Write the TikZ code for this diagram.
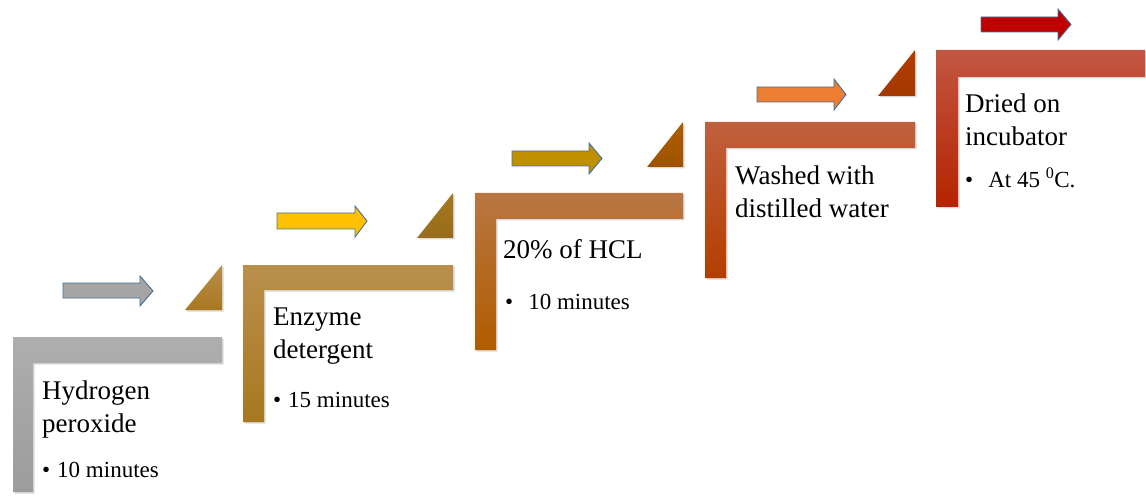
\documentclass[tikz,border=0pt]{standalone}
\usepackage{fontspec}
\setmainfont{Liberation Serif}
\usepackage{xcolor}
\usetikzlibrary{shadows}

\definecolor{sAtop}{HTML}{AEAEAE}
\definecolor{sAbot}{HTML}{9C9C9C}
\definecolor{sBtop}{HTML}{B98F4C}
\definecolor{sBbot}{HTML}{A8781F}
\definecolor{sCtop}{HTML}{B97642}
\definecolor{sCbot}{HTML}{B05C00}
\definecolor{sDtop}{HTML}{C0603E}
\definecolor{sDbot}{HTML}{B43E00}
\definecolor{sEtop}{HTML}{C25642}
\definecolor{sEbot}{HTML}{B42400}
\definecolor{arrowline}{HTML}{41719C}
\definecolor{arrA}{HTML}{A5A5A5}
\definecolor{arrB}{HTML}{FFC000}
\definecolor{arrC}{HTML}{BF9000}
\definecolor{arrD}{HTML}{ED7D31}
\definecolor{arrE}{HTML}{C00000}

\begin{document}
\begin{tikzpicture}[x=1pt,y=-1pt,
  bar/.style={drop shadow={shadow xshift=1.5pt,shadow yshift=-1.5pt,opacity=0.3}},
  blockarrow/.style={draw=arrowline,line width=0.9pt},
  title/.style={anchor=north west,inner sep=0pt,align=left,font=\fontsize{27}{33}\selectfont},
  bullet/.style={anchor=base west,inner sep=0pt,font=\fontsize{23}{27}\selectfont}]
\useasboundingbox (0,0) rectangle (1146,497);

\path[bar,top color=sAtop,bottom color=sAbot] (13,337) -- (222,337) -- (222,363) -- (33,363) -- (33,492) -- (13,492) -- cycle;
\path[bar,top color=sBtop,bottom color=sBbot] (243,265) -- (453,265) -- (453,290) -- (264,290) -- (264,422) -- (243,422) -- cycle;
\path[bar,top color=sCtop,bottom color=sCbot] (475,193) -- (683,193) -- (683,219) -- (496,219) -- (496,350) -- (475,350) -- cycle;
\path[bar,top color=sDtop,bottom color=sDbot] (705,122) -- (915,122) -- (915,148) -- (726,148) -- (726,278) -- (705,278) -- cycle;
\path[bar,top color=sEtop,bottom color=sEbot] (936,50) -- (1145,50) -- (1145,77) -- (958,77) -- (958,207) -- (936,207) -- cycle;

\path[bar,top color=sBtop,bottom color=sBbot] (185,310) -- (222,310) -- (222,265) -- cycle;
\path[bar,top color=sBbot,bottom color=sBbot!90!black] (417,238) -- (453,238) -- (453,193) -- cycle;
\path[bar,top color=sCbot,bottom color=sCbot!90!black] (647,167) -- (683,167) -- (683,122) -- cycle;
\path[bar,top color=sDbot,bottom color=sDbot!90!black] (878,96) -- (915,96) -- (915,50) -- cycle;

\draw[blockarrow,fill=arrA] (63,283) -- (140,283) -- (140,276) -- (153,291) -- (140,306) -- (140,298) -- (63,298) -- cycle;
\draw[blockarrow,fill=arrB] (277,213) -- (355,213) -- (355,206) -- (367,221) -- (355,237) -- (355,229) -- (277,229) -- cycle;
\draw[blockarrow,fill=arrC] (512,151) -- (589,151) -- (589,143) -- (602,158.5) -- (589,174) -- (589,166) -- (512,166) -- cycle;
\draw[blockarrow,fill=arrD] (757,87) -- (834,87) -- (834,79) -- (846,94.5) -- (834,110) -- (834,102) -- (757,102) -- cycle;
\draw[blockarrow,fill=arrE] (981,17) -- (1058,17) -- (1058,9) -- (1071,24.5) -- (1058,40) -- (1058,32) -- (981,32) -- cycle;

\node (t1) at (42,381) [title] {Hydrogen\\peroxide};
\node (b1) at (42,477) [bullet] {\textbullet\hspace{7pt}10 minutes};
\node (t2) at (273,308) [title] {Enzyme\\detergent};
\node (b2) at (273,407) [bullet] {\textbullet\hspace{7pt}15 minutes};
\node (t3) at (503,239) [title] {20\% of HCL};
\node (b3) at (505,309) [bullet] {\textbullet\hspace{15pt}10 minutes};
\node (t4) at (735,166) [title] {Washed with\\distilled water};
\node (t5) at (965,94) [title] {Dried on\\incubator};
\node (b5) at (965,188) [bullet] {\textbullet\hspace{15pt}At 45 \textsuperscript{0}C.};
\end{tikzpicture}
\end{document}
